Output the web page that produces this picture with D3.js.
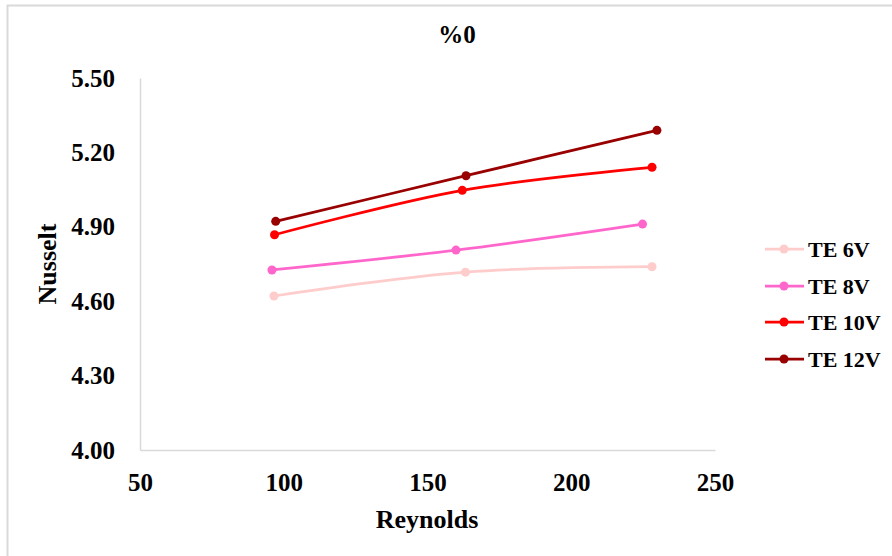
<!DOCTYPE html>
<html>
<head>
<meta charset="utf-8">
<script src="https://cdn.jsdelivr.net/npm/d3@7/dist/d3.min.js"></script>
<style>
  html, body { margin: 0; padding: 0; background: #fff; }
  svg { display: block; }
  text { font-family: "Liberation Serif", "Times New Roman", serif; font-weight: bold; fill: #000; }
</style>
</head>
<body>
<svg id="chart" width="892" height="556"></svg>
<script>
const title = "%0";
const xTitle = "Reynolds";
const yTitle = "Nusselt";
const xTicks = [50, 100, 150, 200, 250];
const yTicks = [4.00, 4.30, 4.60, 4.90, 5.20, 5.50];
const seriesNames = ["TE 6V", "TE 8V", "TE 10V", "TE 12V"];
const seriesColors = ["#FFCCCC", "#FF66CC", "#FF0000", "#990000"];
const te6x = [96.6, 163.2, 228.1];
const te6y = [4.621, 4.717, 4.739];
const te8x = [95.9, 159.9, 224.8];
const te8y = [4.726, 4.806, 4.911];
const te10x = [96.8, 162.1, 228.1];
const te10y = [4.868, 5.047, 5.140];
const te12x = [97.2, 163.4, 229.8];
const te12y = [4.922, 5.106, 5.289];

const seriesX = [te6x, te8x, te10x, te12x];
const seriesY = [te6y, te8y, te10y, te12y];

const svg = d3.select("#chart");
const W = 892, H = 556;

// chart border
svg.append("rect").attr("x", 7.5).attr("y", 5.5).attr("width", W + 10).attr("height", H + 10)
  .attr("fill", "#fff").attr("stroke", "#d9d9d9").attr("stroke-width", 2);

const x = d3.scaleLinear().domain([50, 250]).range([140, 715]);
const y = d3.scaleLinear().domain([4.0, 5.5]).range([450, 78]);

// axes
const xAxis = d3.axisBottom(x).tickValues(xTicks).tickSize(0).tickPadding(23).tickFormat(d3.format("d"));
const yAxis = d3.axisLeft(y).tickValues(yTicks).tickSize(0).tickPadding(25).tickFormat(d3.format(".2f"));

const gx = svg.append("g").attr("transform", `translate(0,${y(4.0)})`).call(xAxis);
const gy = svg.append("g").attr("transform", `translate(${x(50)},0)`).call(yAxis);
[gx, gy].forEach(g => {
  g.select(".domain").attr("stroke", "#d9d9d9").attr("stroke-width", 1.5);
  g.selectAll("text").style("font-family", "'Liberation Serif', serif").style("font-weight", "bold")
    .style("font-size", "25px").attr("fill", "#000");
});
gx.selectAll("text").attr("dy", "0.71em");

// lines
const line = d3.line().x(d => x(d[0])).y(d => y(d[1])).curve(d3.curveCatmullRom.alpha(0.5));
seriesNames.forEach((name, i) => {
  const pts = seriesX[i].map((v, j) => [v, seriesY[i][j]]);
  svg.append("path").datum(pts).attr("d", line).attr("fill", "none")
    .attr("stroke", seriesColors[i]).attr("stroke-width", 2.75).attr("stroke-linecap", "round");
  svg.selectAll(null).data(pts).enter().append("circle")
    .attr("cx", d => x(d[0])).attr("cy", d => y(d[1])).attr("r", 4.5)
    .attr("fill", seriesColors[i]);
});

// title
svg.append("text").attr("x", 457).attr("y", 43).attr("text-anchor", "middle")
  .style("font-size", "25px").text(title);

// axis titles
svg.append("text").attr("x", 427).attr("y", 528).attr("text-anchor", "middle")
  .style("font-size", "26px").text(xTitle);
svg.append("text").attr("transform", "translate(56,264) rotate(-90)").attr("text-anchor", "middle")
  .style("font-size", "26px").text(yTitle);

// legend
const legendY = [249, 286, 322, 359];
seriesNames.forEach((name, i) => {
  const g = svg.append("g").attr("transform", `translate(0,${legendY[i]})`);
  g.append("line").attr("x1", 765).attr("x2", 804).attr("y1", 0).attr("y2", 0)
    .attr("stroke", seriesColors[i]).attr("stroke-width", 2.75);
  g.append("circle").attr("cx", 784).attr("cy", 0).attr("r", 4.5).attr("fill", seriesColors[i]);
  g.append("text").attr("x", 808).attr("y", 0).attr("dy", "0.35em")
    .style("font-size", "22px").text(name);
});
</script>
</body>
</html>
